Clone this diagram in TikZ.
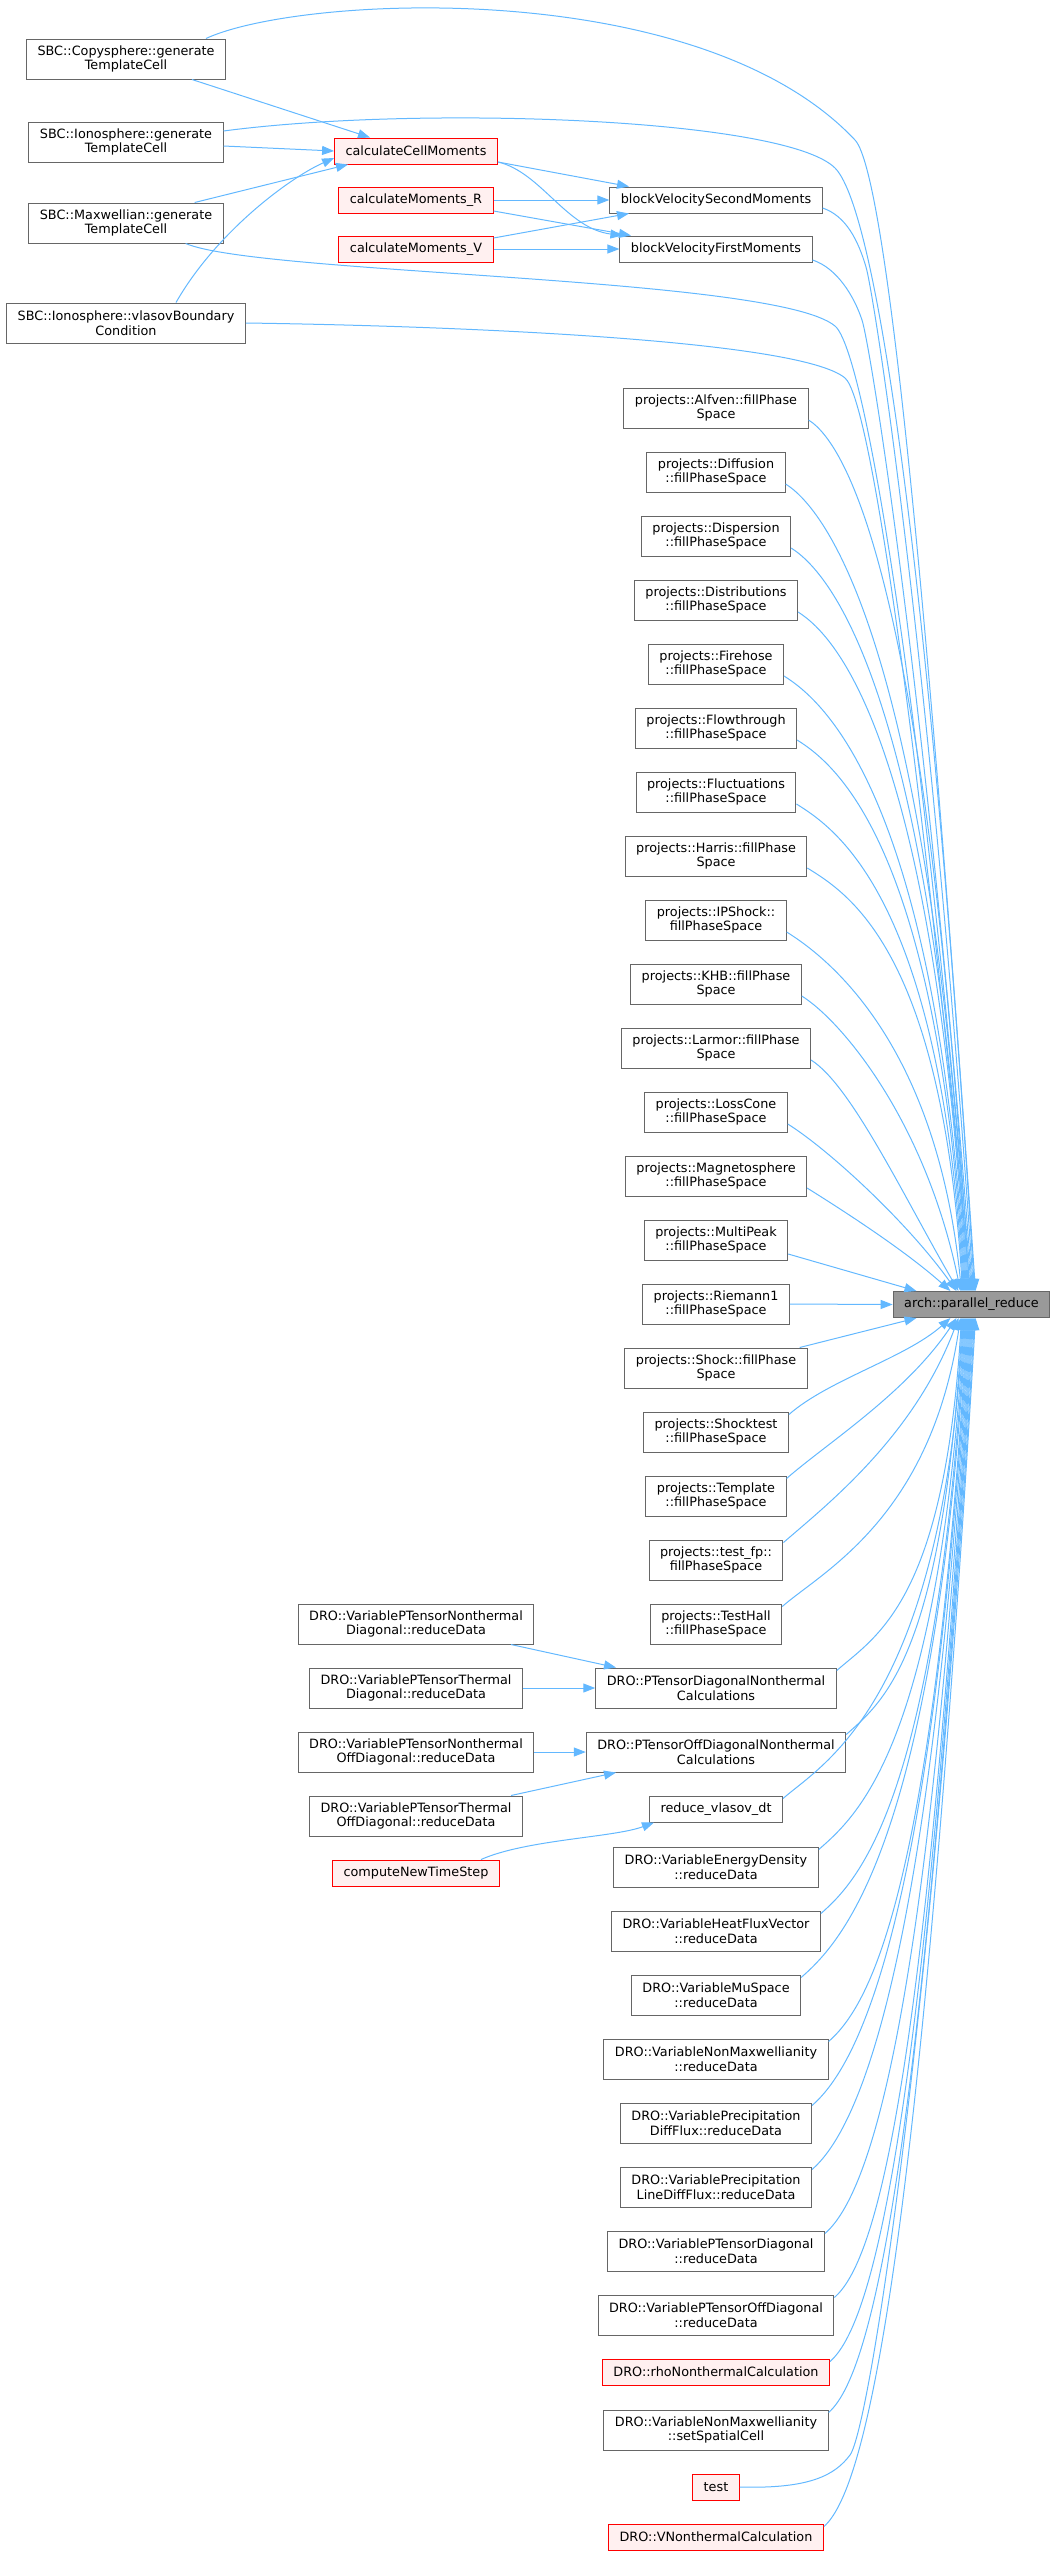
\documentclass[tikz,border=0pt]{standalone}
\usepackage{fontspec}
\setmainfont{DejaVu Sans}
\usetikzlibrary{arrows.meta}

\definecolor{edgeblue}{HTML}{63B8FF}
\definecolor{boxgray}{HTML}{666666}
\definecolor{hotred}{HTML}{FF0000}
\definecolor{hotfill}{HTML}{FFF0F0}
\definecolor{focusgray}{HTML}{999999}

\begin{document}
\begin{tikzpicture}[x=1pt,y=1pt,
    fn/.style={draw=boxgray, fill=white, line width=1pt, inner xsep=11pt, inner ysep=2pt,
      minimum height=26pt, align=center, font=\fontsize{12.8}{14.7}\selectfont},
    two/.style={minimum height=40pt},
    hot/.style={draw=hotred, fill=hotfill},
    focus/.style={draw=boxgray, fill=focusgray},
    call/.style={draw=edgeblue, line width=1pt, -{Triangle[length=12pt,width=9pt]}}]
    \useasboundingbox (0,0) rectangle (1056,-2554);

    % Callers of the callers:
    \node[fn,two] (cop)  at (126,-59)  {SBC::Copysphere::generate\\TemplateCell};
    \node[fn,two] (ionG) at (126,-142) {SBC::Ionosphere::generate\\TemplateCell};
    \node[fn,two] (maxw) at (126,-223) {SBC::Maxwellian::generate\\TemplateCell};
    \node[fn,two] (ionV) at (126,-323) {SBC::Ionosphere::vlasovBoundary\\Condition};

    \node[fn,hot] (ccm) at (416,-151) {calculateCellMoments};
    \node[fn,hot] (cmR) at (416,-200) {calculateMoments\_R};
    \node[fn,hot] (cmV) at (416,-249) {calculateMoments\_V};

    \node[fn,two] (vptnd)  at (416,-1624) {DRO::VariablePTensorNonthermal\\Diagonal::reduceData};
    \node[fn,two] (vpttd)  at (416,-1688) {DRO::VariablePTensorThermal\\Diagonal::reduceData};
    \node[fn,two] (vptnod) at (416,-1752) {DRO::VariablePTensorNonthermal\\OffDiagonal::reduceData};
    \node[fn,two] (vpttod) at (416,-1816) {DRO::VariablePTensorThermal\\OffDiagonal::reduceData};
    \node[fn,hot] (cnts)   at (416,-1873) {computeNewTimeStep};

    % Direct callers:
    \node[fn] (bvsm) at (716,-200) {blockVelocitySecondMoments};
    \node[fn] (bvfm) at (716,-249) {blockVelocityFirstMoments};

    \node[fn,two] (alfven)        at (716,-408)  {projects::Alfven::fillPhase\\Space};
    \node[fn,two] (diffusion)     at (716,-472)  {projects::Diffusion\\::fillPhaseSpace};
    \node[fn,two] (dispersion)    at (716,-536)  {projects::Dispersion\\::fillPhaseSpace};
    \node[fn,two] (distributions) at (716,-600)  {projects::Distributions\\::fillPhaseSpace};
    \node[fn,two] (firehose)      at (716,-664)  {projects::Firehose\\::fillPhaseSpace};
    \node[fn,two] (flowthrough)   at (716,-728)  {projects::Flowthrough\\::fillPhaseSpace};
    \node[fn,two] (fluctuations)  at (716,-792)  {projects::Fluctuations\\::fillPhaseSpace};
    \node[fn,two] (harris)        at (716,-856)  {projects::Harris::fillPhase\\Space};
    \node[fn,two] (ipshock)       at (716,-920)  {projects::IPShock::\\fillPhaseSpace};
    \node[fn,two] (khb)           at (716,-984)  {projects::KHB::fillPhase\\Space};
    \node[fn,two] (larmor)        at (716,-1048) {projects::Larmor::fillPhase\\Space};
    \node[fn,two] (losscone)      at (716,-1112) {projects::LossCone\\::fillPhaseSpace};
    \node[fn,two] (magneto)       at (716,-1176) {projects::Magnetosphere\\::fillPhaseSpace};
    \node[fn,two] (multipeak)     at (716,-1240) {projects::MultiPeak\\::fillPhaseSpace};
    \node[fn,two] (riemann)       at (716,-1304) {projects::Riemann1\\::fillPhaseSpace};
    \node[fn,two] (shock)         at (716,-1368) {projects::Shock::fillPhase\\Space};
    \node[fn,two] (shocktest)     at (716,-1432) {projects::Shocktest\\::fillPhaseSpace};
    \node[fn,two] (template)      at (716,-1496) {projects::Template\\::fillPhaseSpace};
    \node[fn,two] (testfp)        at (716,-1560) {projects::test\_fp::\\fillPhaseSpace};
    \node[fn,two] (testhall)      at (716,-1624) {projects::TestHall\\::fillPhaseSpace};

    \node[fn,two] (ptdnc)  at (716,-1688) {DRO::PTensorDiagonalNonthermal\\Calculations};
    \node[fn,two] (ptodnc) at (716,-1752) {DRO::PTensorOffDiagonalNonthermal\\Calculations};
    \node[fn]     (rvdt)   at (716,-1809) {reduce\_vlasov\_dt};
    \node[fn,two] (energy)       at (716,-1867) {DRO::VariableEnergyDensity\\::reduceData};
    \node[fn,two] (heatflux)     at (716,-1931) {DRO::VariableHeatFluxVector\\::reduceData};
    \node[fn,two] (muspace)      at (716,-1995) {DRO::VariableMuSpace\\::reduceData};
    \node[fn,two] (nonmax)       at (716,-2059) {DRO::VariableNonMaxwellianity\\::reduceData};
    \node[fn,two] (precdiff)     at (716,-2123) {DRO::VariablePrecipitation\\DiffFlux::reduceData};
    \node[fn,two] (preclinediff) at (716,-2187) {DRO::VariablePrecipitation\\LineDiffFlux::reduceData};
    \node[fn,two] (ptdiag)       at (716,-2251) {DRO::VariablePTensorDiagonal\\::reduceData};
    \node[fn,two] (ptoffdiag)    at (716,-2315) {DRO::VariablePTensorOffDiagonal\\::reduceData};
    \node[fn,hot] (rho)          at (716,-2372) {DRO::rhoNonthermalCalculation};
    \node[fn,two] (nonmaxsc)     at (716,-2430) {DRO::VariableNonMaxwellianity\\::setSpatialCell};
    \node[fn,hot] (test)         at (716,-2487) {test};
    \node[fn,hot] (vnon)         at (716,-2537) {DRO::VNonthermalCalculation};

    % The function itself:
    \node[fn,focus] (pr) at (971.5,-1304.5) {arch::parallel\_reduce};

    % Short calls on the left:
    \draw[call] ([xshift=-34pt]cop.south east) -- ([xshift=-46pt]ccm.north);
    \draw[call] ([yshift=-4pt]ionG.east) -- (ccm.west);
    \draw[call] ([xshift=-29pt]maxw.north east) -- ([xshift=-68pt]ccm.south);
    \draw[call] ([xshift=50pt]ionV.north) .. controls +(40,70) and +(-45,-20) .. ([yshift=-7pt]ccm.west);

    \draw[call] ([yshift=-11pt]ccm.east) -- ([xshift=-87pt]bvsm.north);
    \draw[call] ([yshift=-11pt]ccm.east) .. controls +(43,-10) and +(-56,7) .. ([xshift=3pt]bvfm.north west);
    \draw[call] (cmR.east) -- (bvsm.west);
    \draw[call] ([yshift=-11pt]cmR.east) -- ([xshift=-85pt]bvfm.north);
    \draw[call] ([yshift=11pt]cmV.east) -- ([xshift=-87pt]bvsm.south);
    \draw[call] (cmV.east) -- (bvfm.west);

    \draw[call] ([xshift=95pt]vptnd.south) -- ([xshift=-100pt]ptdnc.north);
    \draw[call] (vpttd.east) -- (ptdnc.west);
    \draw[call] (vptnod.east) -- (ptodnc.west);
    \draw[call] ([xshift=95pt]vpttod.north) -- ([xshift=-100pt]ptodnc.south);
    \draw[call] ([xshift=65pt]cnts.north) .. controls +(45,20) and +(-40,-15) .. ([xshift=5pt]rvdt.south west);

    % Long calls over the top:
    \draw[call] ([xshift=-20pt]cop.north east) .. controls (300,5) and (700,25) .. (855,-140)
        .. controls (890,-177) and (935,-700) .. ([xshift=4pt]pr.north);
    \draw[call] ([yshift=11pt]ionG.east) .. controls (420,-105) and (785,-118) .. (835,-168)
        .. controls (880,-213) and (933,-620) .. ([xshift=3pt]pr.north);
    \draw[call] ([yshift=-8pt]bvsm.east) .. controls (846,-216) and (858,-240) .. (866,-267)
        .. controls (874,-294) and (930,-650) .. ([xshift=2pt]pr.north);
    \draw[call] ([yshift=-11pt]bvfm.east) .. controls (837,-268) and (854,-296) .. (862,-320)
        .. controls (870,-344) and (925,-680) .. ([xshift=1pt]pr.north);
    \draw[call] ([xshift=-38pt]maxw.south east) .. controls (260,-275) and (775,-276) .. (835,-326)
        .. controls (865,-351) and (922,-700) .. (pr.north);
    \draw[call] (ionV.east) .. controls (460,-326) and (800,-340) .. (845,-378)
        .. controls (870,-399) and (917,-720) .. ([xshift=-1pt]pr.north);

    % Column of callers into the top and the bottom:
    \foreach \n/\sh/\cx/\cy in {alfven/-2/-42/700, diffusion/-3/-39/649, dispersion/-4/-36/598,
        distributions/-5/-33/546, firehose/-6/-30/495, flowthrough/-7/-27/444, fluctuations/-8/-24/393,
        harris/-9/-21/342, ipshock/-10/-25/250, khb/-11/-35/170, larmor/-13/-55/95,
        losscone/-15/-50/70, magneto/-21/-45/40}
        \draw[call] ([yshift=-12pt]\n.east) .. controls +(40,-25) and +(\cx,\cy) .. ([xshift=\sh]pr.north);

    \draw[call] ([yshift=-14pt]multipeak.east) -- ([xshift=-55pt]pr.north);
    \draw[call] (riemann.east) -- (pr.west);
    \draw[call] ([xshift=-8pt]shock.north east) -- ([xshift=-55pt]pr.south);

    \foreach \n/\sh/\cx/\cy in {shocktest/-21/-45/-40, template/-15/-50/-75, testfp/-13/-45/-120,
        testhall/-11/-30/-200, ptdnc/-10/-17/-283, ptodnc/-9/-20/-334, rvdt/-8/-23/-386,
        energy/-7/-26/-426, heatflux/-6/-29/-478, muspace/-5/-32/-529, nonmax/-4/-35/-580,
        precdiff/-3/-38/-631, preclinediff/-2/-41/-682, ptdiag/-1/-44/-734, ptoffdiag/0/-47/-785,
        rho/1/-50/-836, nonmaxsc/2/-53/-876, vnon/4/-58/-968}
        \draw[call] ([yshift=-3pt]\n.north east) .. controls +(40,35) and +(\cx,\cy) .. ([xshift=\sh]pr.south);
    \draw[call] (test.east) .. controls (810,-2489) and (835,-2475) .. (850,-2455)
        .. controls (870,-2428) and (935,-2000) .. ([xshift=3pt]pr.south);
\end{tikzpicture}
\end{document}
